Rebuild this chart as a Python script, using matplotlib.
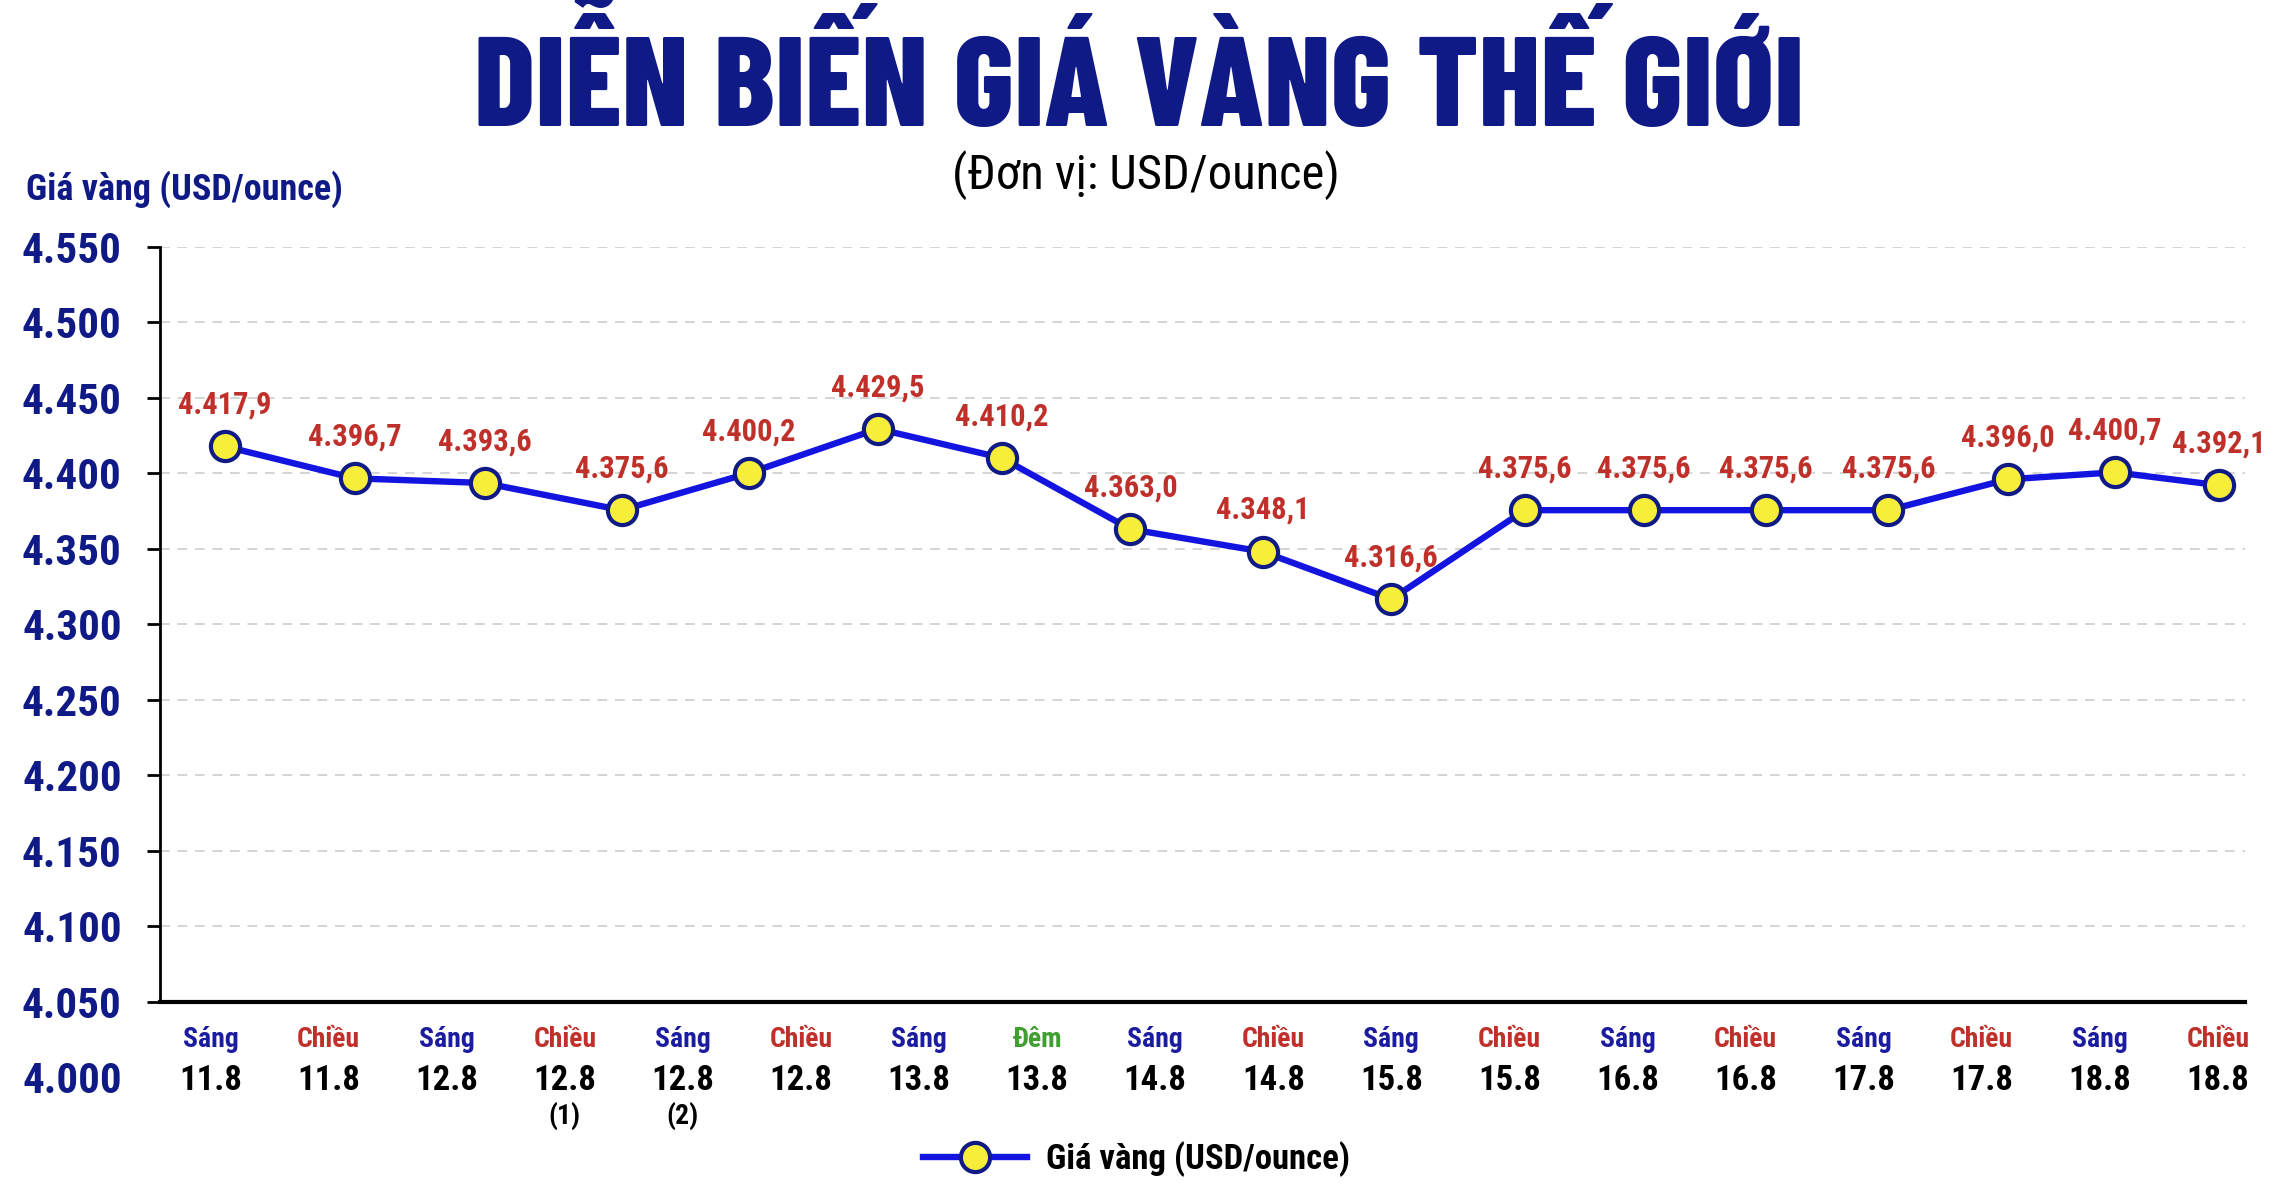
import numpy as np
import matplotlib
matplotlib.use('Agg')
import matplotlib.pyplot as plt

plt.rcParams['font.family'] = ['Roboto Condensed', 'DejaVu Sans']

# -- data
sessions = ['Sáng', 'Chiều', 'Sáng', 'Chiều', 'Sáng', 'Chiều', 'Sáng', 'Đêm', 'Sáng',
            'Chiều', 'Sáng', 'Chiều', 'Sáng', 'Chiều', 'Sáng', 'Chiều', 'Sáng', 'Chiều']
dates = ['11.8', '11.8', '12.8', '12.8', '12.8', '12.8', '13.8', '13.8', '14.8',
         '14.8', '15.8', '15.8', '16.8', '16.8', '17.8', '17.8', '18.8', '18.8']
notes = ['', '', '', '(1)', '(2)', '', '', '', '', '', '', '', '', '', '', '', '', '']
prices = [4417.9, 4396.7, 4393.6, 4375.6, 4400.2, 4429.5, 4410.2, 4363.0, 4348.1,
          4316.6, 4375.6, 4375.6, 4375.6, 4375.6, 4396.0, 4400.7, 4392.1]
# where each reading sits along the session axis (as drawn in the original)
x_slot = [0.12, 1.22, 2.32, 3.48, 4.56, 5.65, 6.70, 7.79, 8.91,
          10.0, 11.13, 12.14, 13.17, 14.21, 15.22, 16.13, 17.01]
yticks = np.arange(4000, 4551, 50)

NAVY = '#101a86'
RED = '#c0302a'
sess_color = {'Sáng': '#1c1ca0', 'Chiều': RED, 'Đêm': '#3f9f2f'}

fig = plt.figure(figsize=(22.78, 11.96), dpi=100, facecolor='white')
ax = fig.add_axes([0.0702, 0.0995, 0.9153, 0.694])

line, = ax.plot(x_slot, prices, color='#1414e0', lw=4.6, marker='o', ms=21,
                mfc='#f7ee3a', mec=NAVY, mew=3, zorder=5,
                label='Giá vàng (USD/ounce)')

#-value labels above each point
for x, v in zip(x_slot, prices):
    s = f'{v:,.1f}'.replace(',', ' ').replace('.', ',').replace(' ', '.')
    ax.annotate(s, (x, v), xytext=(0, 30), textcoords='offset points',
                ha='center', va='center', fontsize=22, fontweight='bold',
                color=RED, zorder=6)

ax.set_ylim(4000, 4550)
ax.set_xlim(-0.43, 17.23)
ax.set_yticks(yticks)
ax.set_yticklabels([f'{v / 1000:.3f}' for v in yticks], fontsize=31,
                   fontweight='bold', color=NAVY)
ax.tick_params(axis='y', length=9.5, width=2, pad=18, color='black')
ax.grid(axis='y', color='#d4d4d4', ls=(0, (5, 4)), lw=1.4)
ax.set_axisbelow(True)
t0 = ax.yaxis.get_major_ticks()
t0[0].tick1line.set_visible(False)
t0[0].gridline.set_visible(False)
t0[1].gridline.set_visible(False)

ax.set_xticks([])
for s in ['top', 'right']:
    ax.spines[s].set_visible(False)
ax.spines['bottom'].set_position(('data', 4050))
ax.spines['bottom'].set_linewidth(3)
ax.spines['left'].set_bounds(4050, 4550)
ax.spines['left'].set_linewidth(2)
ax.set_facecolor('white')

#-session / date labels under the axis
for i, (sn, d, n) in enumerate(zip(sessions, dates, notes)):
    ax.annotate(sn, (i, 4050), xytext=(0, -27), textcoords='offset points',
                ha='center', va='center', fontsize=20, fontweight='bold',
                color=sess_color[sn], annotation_clip=False)
    ax.annotate(d, (i, 4050), xytext=(0, -57), textcoords='offset points',
                ha='center', va='center', fontsize=25, fontweight='bold',
                color='black', annotation_clip=False)
    if n:
        ax.annotate(n, (i, 4050), xytext=(0, -82), textcoords='offset points',
                    ha='center', va='center', fontsize=20, fontweight='bold',
                    color='black', annotation_clip=False)

fig.text(0.5, 0.895, 'DIỄN BIẾN GIÁ VÀNG THẾ GIỚI', ha='center', va='baseline',
         fontsize=92, fontweight=800, color=NAVY,
         family=['Barlow Condensed', 'DejaVu Sans'])
fig.text(0.503, 0.842, '(Đơn vị: USD/ounce)', ha='center', va='baseline',
         fontsize=35, color='black')
fig.text(0.0114, 0.833, 'Giá vàng (USD/ounce)', ha='left', va='baseline',
         fontsize=26, fontweight='bold', color=NAVY)

fig.legend(handles=[line], loc='center', bbox_to_anchor=(0.499, 0.031),
           frameon=False, handlelength=3.0, handletextpad=0.55,
           prop={'size': 25, 'weight': 'bold'})

plt.savefig('out.png', dpi=100, facecolor='white')
